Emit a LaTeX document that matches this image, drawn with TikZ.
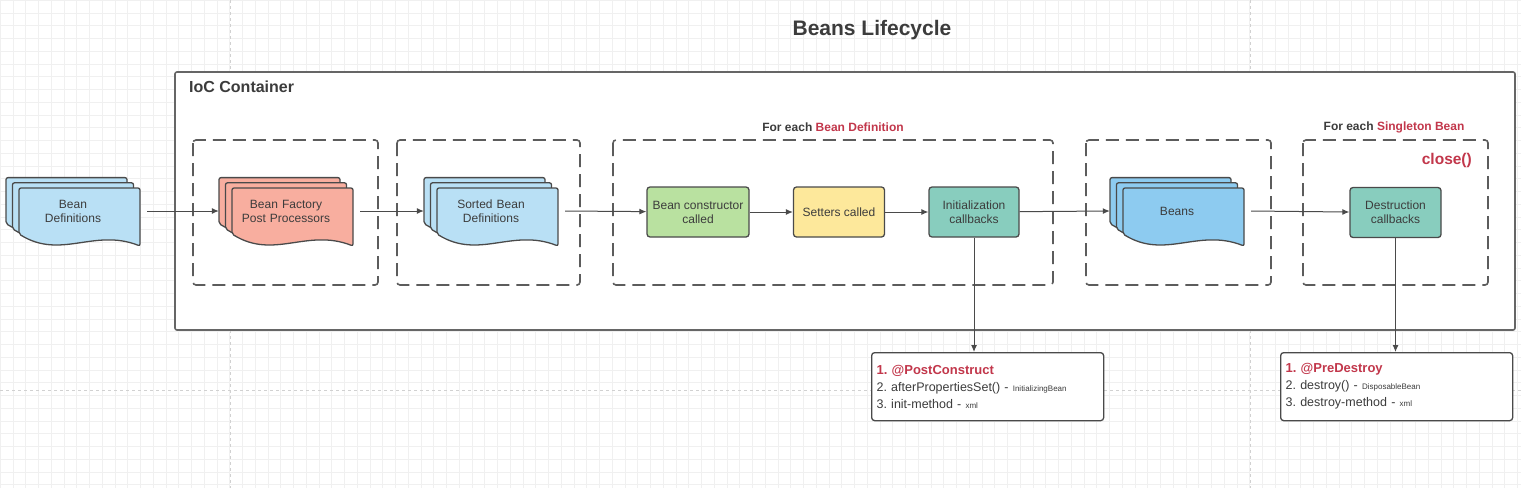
\documentclass[tikz,border=0pt]{standalone}
\usepackage{fontspec}
\setmainfont{Liberation Sans}
\usepackage{xcolor}
\usetikzlibrary{shapes.geometric, arrows.meta, positioning}

\definecolor{docblue}{HTML}{B9E0F5}
\definecolor{beanblue}{HTML}{8DCBF0}
\definecolor{salmon}{HTML}{F8AE9F}
\definecolor{ctorgreen}{HTML}{B9E1A0}
\definecolor{setyellow}{HTML}{FDE89B}
\definecolor{cbteal}{HTML}{88CDBE}
\definecolor{edgegray}{HTML}{4A4A4A}
\definecolor{labelred}{HTML}{C2374B}
\definecolor{textgray}{HTML}{3C3C3C}

% stack of documents: name, x, y (top left of front sheet), fill, text
\newcommand{\docstack}[5]{%
	\foreach \d in {13,6.5,0}
		\draw[docshape, fill=#4, shift={(#2-\d,#3-0.8*\d)}]
			(0,0) -- (121,0) -- (121,58) .. controls (75,40) and (42,72) .. (0,46) -- cycle;
	\node[doctext] (#1) at (#2+54,#3+23) {#5};
}

\begin{document}
\frenchspacing
\begin{tikzpicture}[x=1pt, y=-1pt,
			docshape/.style={draw=edgegray, line width=1.3pt, rounded corners=2pt},
			doctext/.style={minimum width=134, minimum height=40, inner sep=0pt,
					text width=124, align=center, text=textgray, font=\fontsize{12}{14}\selectfont},
			stepbox/.style={rectangle, draw=edgegray, line width=1.3pt, rounded corners=3pt,
					minimum height=50, inner sep=1pt, align=center, text=textgray,
					font=\fontsize{12}{14}\selectfont},
			group/.style={draw=edgegray!90, line width=1.6pt, dash pattern=on 13pt off 7pt, rounded corners=3pt},
			container/.style={draw=gray!120, fill=white, line width=1.6pt, rounded corners=2pt},
			grouptitle/.style={font=\bfseries\fontsize{12}{14}\selectfont, text=textgray, inner sep=0pt},
			cbbox/.style={rectangle, draw=edgegray, line width=1.3pt, fill=white, rounded corners=3pt,
					minimum width=230, minimum height=68, text width=222, inner sep=5pt, align=left,
					text=textgray, font=\fontsize{12.5}{17}\selectfont},
			line/.style={draw=edgegray, line width=1pt, -{Latex[length=7pt, width=6pt]}},
			gridline/.style={draw=black!6, line width=0.4pt}]

		\useasboundingbox (0,0) rectangle (1521,488);

		% canvas grid
		\fill[white] (0,0) rectangle (1521,488);
		\draw[gridline, step=12.75pt] (0,0) grid (1521,488);
		\draw[black!18, dashed, line width=0.6pt] (230,0) -- (230,488) (1250,0) -- (1250,488) (0,390) -- (1521,390);

		% title and container
		\node[font=\bfseries\fontsize{21}{24}\selectfont, text=textgray] (title) at (872,30) {Beans Lifecycle};
		\draw[container] (175,72) rectangle (1515,330);
		\node[grouptitle, font=\bfseries\fontsize{16}{18}\selectfont, anchor=west] (ioc) at (189,87) {IoC Container};

		% dashed groups
		\draw[group] (193,140) rectangle (378,285);
		\draw[group] (397,140) rectangle (580,285);
		\draw[group] (613,140) rectangle (1053,285);
		\draw[group] (1086,140) rectangle (1271,285);
		\draw[group] (1303,140) rectangle (1488,285);
		\node[grouptitle] (eachdef) at (833,127) {For each \textcolor{labelred}{Bean Definition}};
		\node[grouptitle] (eachbean) at (1394,127) {For each \textcolor{labelred}{Singleton Bean}};
		\node[grouptitle, font=\bfseries\fontsize{15.5}{18}\selectfont, text=labelred, anchor=east] (close) at (1472,160) {close()};

		% Define nodes
		\docstack{beandefs}{19}{188}{docblue}{Bean\\Definitions}
		\docstack{bfpp}{232}{188}{salmon}{Bean Factory\\Post Processors}
		\docstack{sorted}{437}{188}{docblue}{Sorted Bean\\Definitions}
		\docstack{beans}{1123}{188}{beanblue}{Beans}

		\node[stepbox, fill=ctorgreen, minimum width=102] (ctor) at (698,212) {Bean constructor\\called};
		\node[stepbox, fill=setyellow, minimum width=91] (setters) at (839,212) {Setters called};
		\node[stepbox, fill=cbteal, minimum width=90] (init) at (974,212) {Initialization\\callbacks};
		\node[stepbox, fill=cbteal, minimum width=91] (destroy) at (1395.5,212.5) {Destruction\\callbacks};

		\node[cbbox, anchor=north west] (postcb) at (871,352)
			{{\bfseries\fontsize{13}{17}\selectfont\textcolor{labelred}{1. @PostConstruct}}\\
			 2. afterPropertiesSet() - {\fontsize{8}{17}\selectfont InitializingBean}\\
			 3. init-method - {\fontsize{8}{17}\selectfont xml}};
		\node[cbbox, anchor=north west, minimum width=232] (predcb) at (1280,352)
			{{\bfseries\fontsize{13}{17}\selectfont\textcolor{labelred}{1. @PreDestroy}}\\
			 2. destroy() - {\fontsize{8}{17}\selectfont DisposableBean}\\
			 3. destroy-method - {\fontsize{8}{17}\selectfont xml}};

		% Draw connections
		\path[line] ([xshift=7pt]beandefs.east) -- (bfpp.west);
		\path[line] ([xshift=7pt]bfpp.east) -- (sorted.west);
		\path[line] ([xshift=7pt]sorted.east) -- (ctor);
		\path[line] (ctor) -- (setters);
		\path[line] (setters) -- (init);
		\path[line] (init) -- (beans.west);
		\path[line] ([xshift=7pt]beans.east) -- (destroy);
		\path[line] (init.south) -- (init.south |- postcb.north);
		\path[line] (destroy.south) -- (destroy.south |- predcb.north);

	\end{tikzpicture}
\end{document}
